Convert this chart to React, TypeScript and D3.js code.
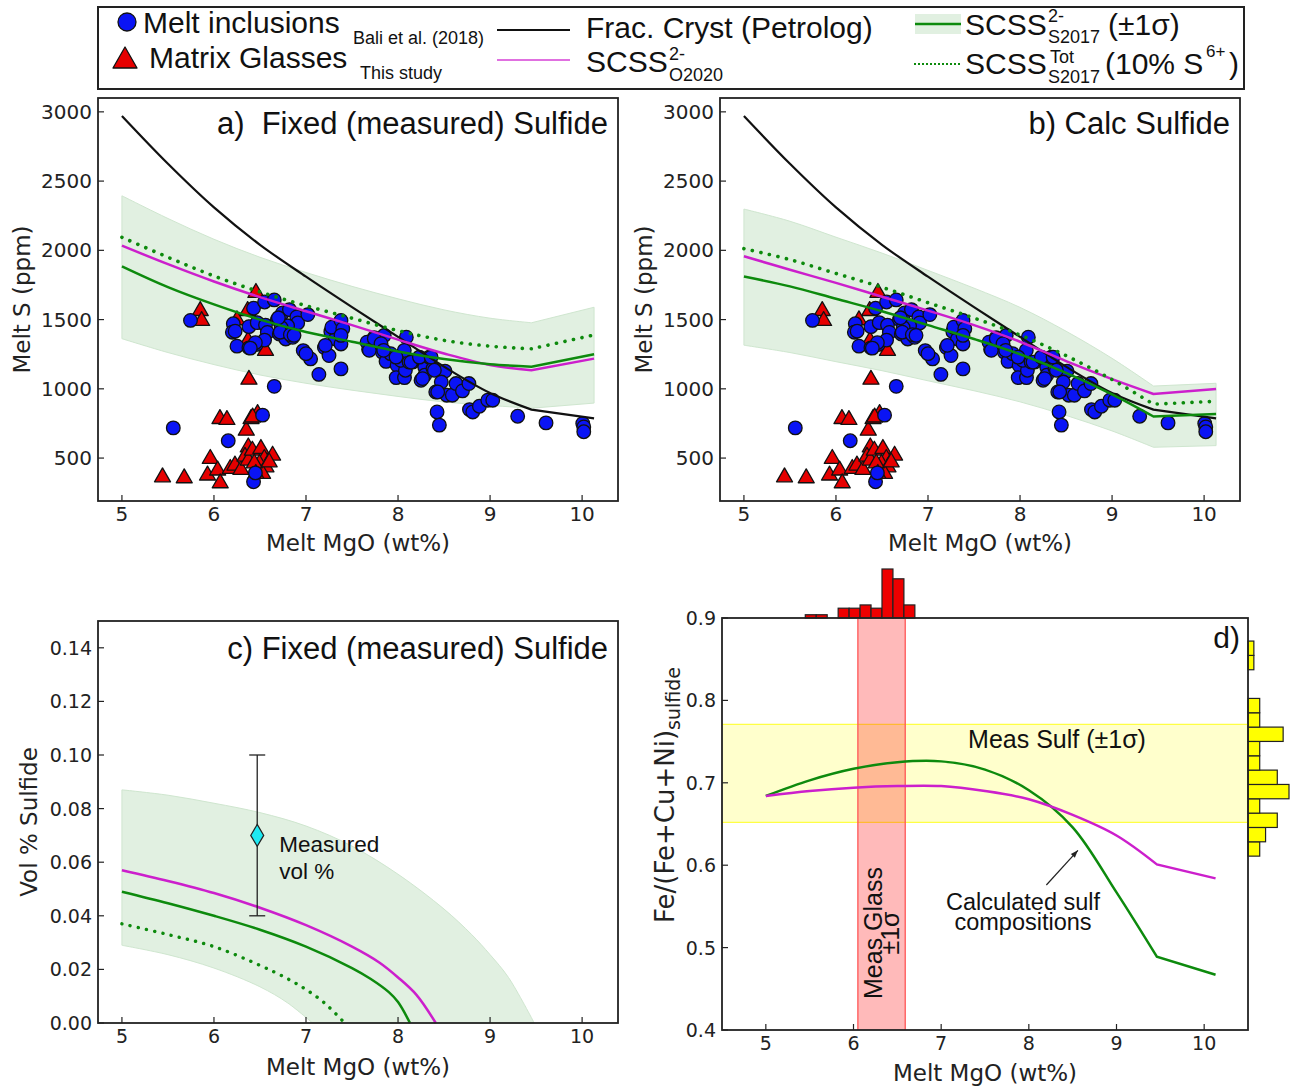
import React from 'react';
import * as d3 from 'd3';

// ---------------- DATA ----------------
const mgoGrid = [5.0, 5.5, 6.0, 6.5, 7.0, 7.5, 8.0, 8.5, 9.0, 9.45, 10.13];
const petrologS = [2970, 2625, 2310, 2040, 1810, 1590, 1375, 1160, 970, 850, 786];

// panel a (fixed measured sulfide)
const scssS2017A = [1885, 1735, 1610, 1500, 1410, 1340, 1270, 1215, 1178, 1160, 1250];
const scssS2017AHi = [2394, 2230, 2080, 1950, 1840, 1740, 1650, 1570, 1510, 1477, 1589];
const scssS2017ALo = [1362, 1262, 1175, 1100, 1040, 990, 945, 905, 880, 860, 897];
const scssO2020A = [2034, 1900, 1775, 1662, 1560, 1460, 1355, 1255, 1172, 1134, 1218];
const scssTotA = [2094, 1950, 1815, 1700, 1600, 1510, 1420, 1350, 1308, 1289, 1389];

// panel b (calc sulfide)
const scssS2017B = [1811, 1740, 1650, 1560, 1460, 1360, 1250, 1115, 960, 800, 819];
const scssS2017BHi = [2298, 2210, 2095, 1980, 1855, 1727, 1588, 1416, 1220, 1020, 1040];
const scssS2017BLo = [1315, 1262, 1196, 1131, 1058, 986, 906, 808, 696, 578, 590];
const scssO2020B = [1957, 1860, 1765, 1665, 1565, 1460, 1340, 1200, 1070, 963, 999];
const scssTotB = [2012, 1933, 1833, 1733, 1622, 1511, 1389, 1239, 1067, 889, 910];

// melt inclusions (Bali et al. 2018): [MgO, S]
const meltInclusions: [number, number][] = [
  [5.745, 1494], [5.558, 718], [6.155, 625], [6.43, 329], [6.45, 393], [6.528, 810], [6.655, 1018],
  [6.21, 1470], [6.20, 1409], [6.23, 1416], [6.25, 1308], [6.38, 1449], [6.43, 1582], [6.38, 1296],
  [6.46, 1320], [6.47, 1478], [6.55, 1627], [6.655, 1642], [6.56, 1460], [6.58, 1407], [6.55, 1352],
  [6.69, 1500], [6.745, 1548], [6.82, 1572], [6.90, 1519], [6.91, 1476], [7.02, 1536], [6.71, 1396],
  [6.78, 1360], [6.855, 1372], [6.80, 1455], [6.73, 1443], [6.97, 1276], [7.05, 1216], [7.14, 1104],
  [7.20, 1298], [7.25, 1240], [7.27, 1413], [7.32, 1360], [7.37, 1468], [7.38, 1324], [7.38, 1144],
  [6.72, 1409], [6.83, 1391], [6.87, 1386], [6.45, 1333], [6.395, 1294], [7.0, 1254], [7.21, 1314],
  [6.70, 1513], [7.28, 1445], [7.38, 1494], [7.40, 1434], [7.38, 1386],
  [7.74, 1369], [7.68, 1285], [7.78, 1337], [7.83, 1265], [7.85, 1386], [7.87, 1198], [7.92, 1254],
  [7.99, 1170], [7.98, 1081], [8.07, 1081], [8.08, 1134], [8.03, 1206], [8.09, 1373], [8.12, 1193],
  [8.16, 1193], [8.23, 1218], [8.29, 1157], [8.25, 1062], [8.29, 1098], [8.34, 1229], [8.38, 1146],
  [8.51, 1128], [8.47, 1049], [8.41, 977], [8.53, 954], [8.59, 954], [8.63, 1038], [8.70, 985],
  [8.77, 1038], [7.663, 1337], [7.688, 1278], [7.742, 1362], [7.815, 1326], [7.844, 1278],
  [8.068, 1278], [7.978, 1229], [8.141, 1193], [8.232, 1229], [8.267, 1074], [8.359, 1229],
  [8.395, 1134], [8.431, 977], [8.424, 833], [8.449, 738], [8.776, 850], [8.812, 833],
  [8.884, 874], [8.975, 918], [9.029, 918], [9.30, 802], [9.608, 754], [10.007, 750],
  [10.018, 725], [10.018, 690],
];

// matrix glasses (this study): [MgO, S]
const matrixGlasses: [number, number][] = [
  [5.851, 1566], [5.866, 1494], [6.456, 1697], [6.366, 1566], [6.25, 1499], [6.37, 1350], [6.56, 1278],
  [6.38, 1070], [5.441, 365], [5.677, 358], [5.93, 378], [5.96, 498], [6.04, 414], [6.068, 322],
  [6.065, 786], [6.141, 779], [6.177, 426], [6.228, 450], [6.293, 419], [6.351, 702], [6.373, 581],
  [6.337, 514], [6.403, 786], [6.474, 822], [6.373, 486], [6.417, 558], [6.51, 570], [6.547, 498],
  [6.637, 522], [6.493, 462], [6.565, 437], [6.528, 390], [6.438, 466], [6.455, 390], [6.60, 473],
  [6.42, 797],
];

// panel c (vol % sulfide)
const volO2020X = [5.0, 5.5, 6.0, 6.5, 7.0, 7.5, 7.8, 8.0, 8.2, 8.41];
const volO2020Y = [0.057, 0.053, 0.0485, 0.043, 0.0365, 0.0285, 0.0225, 0.017, 0.0105, 0.0];
const volS2017X = [5.0, 5.5, 6.0, 6.5, 7.0, 7.5, 7.7, 7.9, 8.0, 8.13];
const volS2017Y = [0.049, 0.0447, 0.040, 0.0348, 0.0285, 0.0205, 0.0165, 0.0115, 0.0078, 0.0];
const volTotX = [5.0, 5.5, 6.0, 6.5, 6.8, 7.0, 7.2, 7.42];
const volTotY = [0.037, 0.033, 0.0285, 0.0215, 0.0165, 0.0125, 0.0075, 0.0];
const volHiX = [5.0, 5.5, 6.0, 6.5, 7.0, 7.5, 8.0, 8.5, 8.8, 9.0, 9.2, 9.48];
const volHiY = [0.087, 0.085, 0.082, 0.0785, 0.0735, 0.066, 0.0555, 0.0425, 0.033, 0.0255, 0.017, 0.0];
const volLoX = [5.0, 5.5, 6.0, 6.5, 6.8, 7.07];
const volLoY = [0.029, 0.0255, 0.0205, 0.0135, 0.0075, 0.0];
const measuredVol = { mgo: 6.47, vol: 0.07, lo: 0.04, hi: 0.10 };

// panel d (sulfide composition)
const mgoGridD = [5.0, 5.5, 6.0, 6.5, 7.0, 7.5, 8.0, 8.5, 9.0, 9.46, 10.13];
const fracD = [0.684, 0.703, 0.717, 0.725, 0.726, 0.716, 0.691, 0.646, 0.567, 0.489, 0.467];
const fracDO2020 = [0.684, 0.690, 0.694, 0.696, 0.696, 0.690, 0.680, 0.661, 0.636, 0.601, 0.584];
const measSulfBand = [0.652, 0.771];
const measGlassBand = [6.05, 6.59];
const glassHistEdges = [5.45, 5.575, 5.70, 5.825, 5.95, 6.075, 6.20, 6.325, 6.45, 6.575, 6.70];
const glassHistCounts = [1, 1, 0, 3, 3, 4, 3, 15, 12, 4];
const sulfHistEdges = [0.611, 0.6284, 0.6458, 0.6632, 0.6806, 0.698, 0.7154, 0.7328, 0.7502, 0.7676, 0.785, 0.8024, 0.8198, 0.8372, 0.8546, 0.872];
const sulfHistCounts = [2, 3, 5, 2, 7, 5, 2, 2, 6, 2, 2, 0, 0, 1, 1];

const xTicks = [5, 6, 7, 8, 9, 10];
const sTicks = [500, 1000, 1500, 2000, 2500, 3000];
const volTicks = [0, 0.02, 0.04, 0.06, 0.08, 0.10, 0.12, 0.14];
const fracTicks = [0.4, 0.5, 0.6, 0.7, 0.8, 0.9];

// ---------------- STYLE ----------------
const TICKF = "'DejaVu Sans', sans-serif";
const TXTF = "'Liberation Sans', Arial, sans-serif";
const GREEN = '#0d8a0d';
const MAG = '#cc1fcc';
const BAND = '#e1f0e1';
const CURVE = d3.curveCatmullRom.alpha(0.5);

type Box = { l: number; r: number; t: number; b: number };

// smooth curve through all but the last point, then a straight final segment (kink)
function kinkedPath(X: number[], Y: number[], xs: any, ys: any) {
  const pts = X.map((x, i) => [xs(x), ys(Y[i])] as [number, number]);
  const body = d3.line().curve(CURVE)(pts.slice(0, -1)) || '';
  const last = pts[pts.length - 1];
  return `${body}L${last[0]},${last[1]}`;
}

function Axes({ box, xs, ys, xt, yt, yfmt, fs = 20 }: any) {
  return (
    <g>
      {xt.map((t: number) => (
        <g key={'x' + t}>
          <line x1={xs(t)} x2={xs(t)} y1={box.b} y2={box.b - 6} stroke="#222" strokeWidth={1.2} />
          <text x={xs(t)} y={box.b + 20} fontSize={fs} fontFamily={TICKF} textAnchor="middle" fill="#222">{t}</text>
        </g>
      ))}
      {yt.map((t: number) => (
        <g key={'y' + t}>
          <line x1={box.l} x2={box.l + 6} y1={ys(t)} y2={ys(t)} stroke="#222" strokeWidth={1.2} />
          <text x={box.l - 6} y={ys(t) + 7} fontSize={fs} fontFamily={TICKF} textAnchor="end" fill="#222">{yfmt(t)}</text>
        </g>
      ))}
      <rect x={box.l} y={box.t} width={box.r - box.l} height={box.b - box.t} fill="none" stroke="#222" strokeWidth={1.8} />
    </g>
  );
}

function Triangle({ cx, cy, s = 8 }: any) {
  const h = s * 1.05;
  return <polygon points={`${cx - s},${cy + h * 0.6} ${cx + s},${cy + h * 0.6} ${cx},${cy - h * 1.05}`} fill="#e60000" stroke="#111" strokeWidth={1.3} strokeLinejoin="round" />;
}

function SPanel({ box, hi, lo, mid, o2020, tot, title, clipId }: any) {
  const xs = d3.scaleLinear().domain([4.74, 10.39]).range([box.l, box.r]);
  const ys = d3.scaleLinear().domain([190, 3100]).range([box.b, box.t]);
  const n = mgoGrid.length;
  const hiPts = mgoGrid.map((x, i) => [xs(x), ys(hi[i])] as [number, number]);
  const loPts = mgoGrid.map((x, i) => [xs(x), ys(lo[i])] as [number, number]);
  const hiPath = (d3.line().curve(CURVE)(hiPts.slice(0, -1)) || '') + `L${hiPts[n - 1][0]},${hiPts[n - 1][1]}`;
  const loRev = loPts.slice().reverse();
  const loPath = `L${loRev[0][0]},${loRev[0][1]}` + (d3.line().curve(CURVE)(loRev.slice(1)) || '').replace(/^M/, 'L');
  const bandPath = hiPath + loPath + 'Z';
  const line = (arr: number[]) => kinkedPath(mgoGrid, arr, xs, ys);
  return (
    <g>
      <defs>
        <clipPath id={clipId}><rect x={box.l} y={box.t} width={box.r - box.l} height={box.b - box.t} /></clipPath>
      </defs>
      <g clipPath={`url(#${clipId})`}>
        <path d={bandPath} fill={BAND} stroke="#cfe6cf" strokeWidth={1} />
        {matrixGlasses.map((d, i) => <Triangle key={'t' + i} cx={xs(d[0])} cy={ys(d[1])} s={8} />)}
        {meltInclusions.map((d, i) => (
          <circle key={'c' + i} cx={xs(d[0])} cy={ys(d[1])} r={6.8} fill="#0a14f5" stroke="#111" strokeWidth={1.3} />
        ))}
        <path d={line(petrologS)} fill="none" stroke="#111" strokeWidth={2.2} />
        <path d={line(o2020)} fill="none" stroke={MAG} strokeWidth={2.5} />
        <path d={line(mid)} fill="none" stroke={GREEN} strokeWidth={2.5} />
        <path d={line(tot)} fill="none" stroke={GREEN} strokeWidth={3.6} strokeDasharray="0.1 8.6" strokeLinecap="round" />
      </g>
      <text x={box.r - 10} y={box.t + 36} fontSize={31} fontFamily={TXTF} textAnchor="end" fill="#111" style={{ whiteSpace: 'pre' }}>{title}</text>
      <Axes box={box} xs={xs} ys={ys} xt={xTicks} yt={sTicks} yfmt={(t: number) => String(t)} />
      <text x={(box.l + box.r) / 2} y={box.b + 50} fontSize={23} fontFamily={TICKF} textAnchor="middle" fill="#222">Melt MgO (wt%)</text>
      <text transform={`translate(${box.l - 68},${(box.t + box.b) / 2}) rotate(-90)`} fontSize={23} fontFamily={TICKF} textAnchor="middle" fill="#222">Melt S (ppm)</text>
    </g>
  );
}

function PanelC({ box }: { box: Box }) {
  const xs = d3.scaleLinear().domain([4.74, 10.39]).range([box.l, box.r]);
  const ys = d3.scaleLinear().domain([0, 0.15]).range([box.b, box.t]);
  const pts = (X: number[], Y: number[]) => X.map((x, i) => [xs(x), ys(Y[i])] as [number, number]);
  const ln = d3.line().curve(CURVE);
  const upper = ln(pts(volHiX, volHiY)) || '';
  const lowerRev = ln(pts(volLoX, volLoY).reverse()) || '';
  const bandPath = upper + 'L' + lowerRev.slice(1) + 'Z';
  const mx = xs(measuredVol.mgo), my = ys(measuredVol.vol);
  return (
    <g>
      <path d={bandPath} fill={BAND} stroke="#cfe6cf" strokeWidth={1} />
      <path d={ln(pts(volO2020X, volO2020Y)) || ''} fill="none" stroke={MAG} strokeWidth={2.5} />
      <path d={ln(pts(volS2017X, volS2017Y)) || ''} fill="none" stroke={GREEN} strokeWidth={2.5} />
      <path d={ln(pts(volTotX, volTotY)) || ''} fill="none" stroke={GREEN} strokeWidth={3.4} strokeDasharray="0.1 8.3" strokeLinecap="round" />
      <line x1={mx} x2={mx} y1={ys(measuredVol.lo)} y2={ys(measuredVol.hi)} stroke="#222" strokeWidth={1.3} />
      <line x1={mx - 8} x2={mx + 8} y1={ys(measuredVol.lo)} y2={ys(measuredVol.lo)} stroke="#222" strokeWidth={1.3} />
      <line x1={mx - 8} x2={mx + 8} y1={ys(measuredVol.hi)} y2={ys(measuredVol.hi)} stroke="#222" strokeWidth={1.3} />
      <polygon points={`${mx},${my - 11} ${mx + 6.5},${my} ${mx},${my + 11} ${mx - 6.5},${my}`} fill="#1ee9f2" stroke="#222" strokeWidth={1.2} />
      <text x={mx + 22} y={my + 17} fontSize={22.5} fontFamily={TXTF} fill="#111">Measured</text>
      <text x={mx + 22} y={my + 44} fontSize={22.5} fontFamily={TXTF} fill="#111">vol %</text>
      <text x={box.r - 10} y={box.t + 38} fontSize={31} fontFamily={TXTF} textAnchor="end" fill="#111">c) Fixed (measured) Sulfide</text>
      <Axes box={box} xs={xs} ys={ys} xt={xTicks} yt={volTicks} yfmt={(t: number) => t.toFixed(2)} fs={19} />
      <text x={(box.l + box.r) / 2} y={box.b + 52} fontSize={23} fontFamily={TICKF} textAnchor="middle" fill="#222">Melt MgO (wt%)</text>
      <text transform={`translate(37,${(box.t + box.b) / 2}) rotate(-90)`} fontSize={23} fontFamily={TICKF} textAnchor="middle" fill="#222">Vol % Sulfide</text>
    </g>
  );
}

function PanelD({ box }: { box: Box }) {
  const xs = d3.scaleLinear().domain([4.5, 10.5]).range([box.l, box.r]);
  const ys = d3.scaleLinear().domain([0.4, 0.9]).range([box.b, box.t]);
  const hTop = d3.scaleLinear().domain([0, 15]).range([box.t, box.t - 49]);
  const hRight = d3.scaleLinear().domain([0, 7]).range([box.r, box.r + 41]);
  const line = (arr: number[]) => kinkedPath(mgoGridD, arr, xs, ys);
  const a0 = [xs(8.2), ys(0.576)], a1 = [xs(8.56), ys(0.618)];
  const ang = Math.atan2(a1[1] - a0[1], a1[0] - a0[0]);
  const ah = 8;
  return (
    <g>
      {glassHistCounts.map((c, i) => c > 0 && (
        <rect key={'g' + i} x={xs(glassHistEdges[i])} y={hTop(c)} width={xs(glassHistEdges[i + 1]) - xs(glassHistEdges[i])} height={box.t - hTop(c)} fill="#ee0000" stroke="#222" strokeWidth={1.2} />
      ))}
      {sulfHistCounts.map((c, i) => c > 0 && (
        <rect key={'s' + i} x={box.r} y={ys(sulfHistEdges[i + 1])} width={hRight(c) - box.r} height={ys(sulfHistEdges[i]) - ys(sulfHistEdges[i + 1])} fill="#ffff00" stroke="#222" strokeWidth={1.2} />
      ))}
      <rect x={box.l} y={ys(measSulfBand[1])} width={box.r - box.l} height={ys(measSulfBand[0]) - ys(measSulfBand[1])} fill="#ffff00" fillOpacity={0.2} />
      <line x1={box.l} x2={box.r} y1={ys(measSulfBand[1])} y2={ys(measSulfBand[1])} stroke="#ffff44" strokeWidth={1.2} />
      <line x1={box.l} x2={box.r} y1={ys(measSulfBand[0])} y2={ys(measSulfBand[0])} stroke="#ffff44" strokeWidth={1.2} />
      <rect x={xs(measGlassBand[0])} y={box.t} width={xs(measGlassBand[1]) - xs(measGlassBand[0])} height={box.b - box.t} fill="#ff0000" fillOpacity={0.27} />
      <line x1={xs(measGlassBand[0])} x2={xs(measGlassBand[0])} y1={box.t} y2={box.b} stroke="#ff5555" strokeWidth={1.3} />
      <line x1={xs(measGlassBand[1])} x2={xs(measGlassBand[1])} y1={box.t} y2={box.b} stroke="#ff5555" strokeWidth={1.3} />
      <path d={line(fracD)} fill="none" stroke={GREEN} strokeWidth={2.5} />
      <path d={line(fracDO2020)} fill="none" stroke={MAG} strokeWidth={2.5} />
      <text x={1057} y={748} fontSize={25} fontFamily={TXTF} textAnchor="middle" fill="#111">Meas Sulf (±1σ)</text>
      <text transform={`translate(882,933) rotate(-90)`} fontSize={25} fontFamily={TXTF} textAnchor="middle" fill="#111">Meas Glass</text>
      <text transform={`translate(899,933) rotate(-90)`} fontSize={25} fontFamily={TXTF} textAnchor="middle" fill="#111">±1σ</text>
      <text x={1023} y={910} fontSize={23.5} fontFamily={TXTF} textAnchor="middle" fill="#111">Calculated sulf</text>
      <text x={1023} y={930} fontSize={23.5} fontFamily={TXTF} textAnchor="middle" fill="#111">compositions</text>
      <line x1={a0[0]} y1={a0[1]} x2={a1[0]} y2={a1[1]} stroke="#222" strokeWidth={1.2} />
      <polygon points={`${a1[0]},${a1[1]} ${a1[0] - ah * Math.cos(ang - 0.35)},${a1[1] - ah * Math.sin(ang - 0.35)} ${a1[0] - ah * Math.cos(ang + 0.35)},${a1[1] - ah * Math.sin(ang + 0.35)}`} fill="#222" />
      <text x={box.r - 8} y={box.t + 30} fontSize={30} fontFamily={TXTF} textAnchor="end" fill="#111">d)</text>
      <Axes box={box} xs={xs} ys={ys} xt={xTicks} yt={fracTicks} yfmt={(t: number) => t.toFixed(1)} fs={19} />
      <text x={(box.l + box.r) / 2} y={box.b + 51} fontSize={23} fontFamily={TICKF} textAnchor="middle" fill="#222">Melt MgO (wt%)</text>
      <text transform={`translate(674,795) rotate(-90)`} fontSize={26} fontFamily={TICKF} textAnchor="middle" fill="#222">
        Fe/(Fe+Cu+Ni)<tspan fontSize={19} dy={6}>sulfide</tspan>
      </text>
    </g>
  );
}

function Legend() {
  const f = TXTF;
  return (
    <g fill="#111">
      <rect x={98} y={7} width={1146} height={82} fill="#fff" stroke="#222" strokeWidth={2} />
      <circle cx={127} cy={22} r={9} fill="#0a14f5" stroke="#111" strokeWidth={1.3} />
      <text x={143} y={33} fontSize={30} fontFamily={f}>Melt inclusions</text>
      <polygon points="113,68 137,68 125,47" fill="#e60000" stroke="#111" strokeWidth={1.3} strokeLinejoin="round" />
      <text x={149} y={68} fontSize={30} fontFamily={f}>Matrix Glasses</text>
      <text x={353} y={44} fontSize={18} fontFamily={f}>Bali et al. (2018)</text>
      <text x={360} y={79} fontSize={18} fontFamily={f}>This study</text>
      <line x1={497} x2={570} y1={30} y2={30} stroke="#111" strokeWidth={2} />
      <text x={586} y={38} fontSize={30} fontFamily={f}>Frac. Cryst (Petrolog)</text>
      <line x1={497} x2={570} y1={60} y2={60} stroke="#e070e0" strokeWidth={2} />
      <text x={586} y={72} fontSize={30} fontFamily={f}>SCSS</text>
      <text x={669} y={60} fontSize={18} fontFamily={f}>2-</text>
      <text x={669} y={81} fontSize={18} fontFamily={f}>O2020</text>
      <rect x={915} y={14} width={46} height={20} fill={BAND} />
      <line x1={915} x2={961} y1={24} y2={24} stroke={GREEN} strokeWidth={2.5} />
      <text x={965} y={35} fontSize={30} fontFamily={f}>SCSS</text>
      <text x={1048} y={22} fontSize={18} fontFamily={f}>2-</text>
      <text x={1048} y={43} fontSize={18} fontFamily={f}>S2017</text>
      <text x={1108} y={35} fontSize={30} fontFamily={f}>(±1σ)</text>
      <line x1={914} x2={961} y1={64} y2={64} stroke={GREEN} strokeWidth={2} strokeDasharray="2 2" />
      <text x={965} y={74} fontSize={30} fontFamily={f}>SCSS</text>
      <text x={1050} y={63} fontSize={18} fontFamily={f}>Tot</text>
      <text x={1048} y={83} fontSize={18} fontFamily={f}>S2017</text>
      <text x={1105} y={74} fontSize={30} fontFamily={f}>(10% S</text>
      <text x={1206} y={57} fontSize={17} fontFamily={f}>6+</text>
      <text x={1229} y={74} fontSize={30} fontFamily={f}>)</text>
    </g>
  );
}

export default function App() {
  const boxA = { l: 98, r: 618, t: 98, b: 501 };
  const boxB = { l: 720, r: 1240, t: 98, b: 501 };
  const boxC = { l: 98, r: 618, t: 621, b: 1023 };
  const boxD = { l: 722, r: 1248, t: 618, b: 1030 };
  return (
    <svg width={1293} height={1089} style={{ position: 'absolute', left: 0, top: 0, background: '#fff' }}>
      <rect x={0} y={0} width={1293} height={1089} fill="#fff" />
      <Legend />
      <SPanel box={boxA} hi={scssS2017AHi} lo={scssS2017ALo} mid={scssS2017A} o2020={scssO2020A} tot={scssTotA} title={'a)  Fixed (measured) Sulfide'} clipId="clipA" />
      <SPanel box={boxB} hi={scssS2017BHi} lo={scssS2017BLo} mid={scssS2017B} o2020={scssO2020B} tot={scssTotB} title={'b) Calc Sulfide'} clipId="clipB" />
      <PanelC box={boxC} />
      <PanelD box={boxD} />
    </svg>
  );
}
